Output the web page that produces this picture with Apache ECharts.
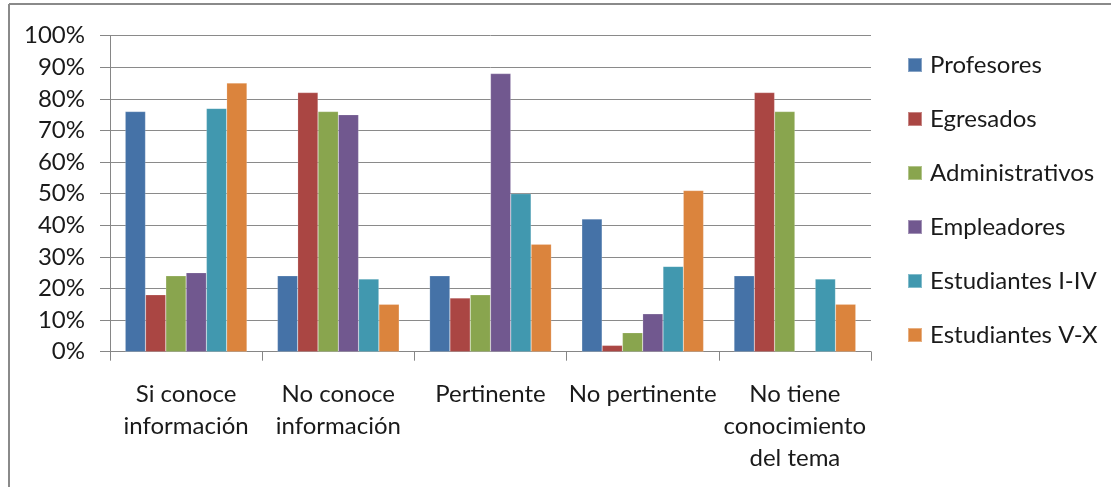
<!DOCTYPE html>
<html>
<head>
<meta charset="utf-8">
<script src="https://cdn.jsdelivr.net/npm/echarts@6/dist/echarts.min.js"></script>
<style>
html,body{margin:0;padding:0;background:#fff;}
#chart{width:1111px;height:487px;}
</style>
</head>
<body>
<div id="chart"></div>
<script>
const categories = ["Si conoce\ninformación", "No conoce\ninformación", "Pertinente", "No pertinente", "No tiene\nconocimiento\ndel tema"];
const yTicks = { min: 0, max: 100, interval: 10 };
const profesores = [76, 24, 24, 42, 24];
const egresados = [18, 82, 17, 2, 82];
const administrativos = [24, 76, 18, 6, 76];
const empleadores = [25, 75, 88, 12, null];
const estudiantesIIV = [77, 23, 50, 27, 23];
const estudiantesVX = [85, 15, 34, 51, 15];

const seriesDefs = [
  { name: "Profesores", data: profesores, color: "#4572A7" },
  { name: "Egresados", data: egresados, color: "#AA4643" },
  { name: "Administrativos", data: administrativos, color: "#89A54E" },
  { name: "Empleadores", data: empleadores, color: "#71588F" },
  { name: "Estudiantes I-IV", data: estudiantesIIV, color: "#4198AF" },
  { name: "Estudiantes V-X", data: estudiantesVX, color: "#DB843D" }
];

const font = "Lato, 'Open Sans', sans-serif";
const chart = echarts.init(document.getElementById('chart'), null, { renderer: 'canvas' });
chart.setOption({
  animation: false,
  backgroundColor: '#ffffff',
  graphic: [
    { type: 'line', shape: { x1: 9, y1: 4, x2: 1111, y2: 4 }, style: { stroke: '#8a8a8a', lineWidth: 2 } },
    { type: 'line', shape: { x1: 9, y1: 4, x2: 9, y2: 487 }, style: { stroke: '#8a8a8a', lineWidth: 2 } }
  ],
  grid: { left: 110, right: 240, top: 35.7, bottom: 135.3, containLabel: false },
  legend: {
    orient: 'vertical',
    left: 907,
    top: 53,
    padding: 0,
    itemWidth: 14,
    itemHeight: 14,
    itemGap: 30,
    icon: 'rect',
    textStyle: { fontFamily: font, fontSize: 24, color: '#1a1a1a', lineHeight: 24, padding: [0, 0, 0, 3] },
    data: seriesDefs.map(s => s.name)
  },
  xAxis: {
    type: 'category',
    data: categories,
    axisLine: { lineStyle: { color: '#868686', width: 1 } },
    axisTick: { show: true, length: 9, lineStyle: { color: '#868686' } },
    axisLabel: { fontFamily: font, fontSize: 24, color: '#1a1a1a', lineHeight: 32, margin: 27, interval: 0 }
  },
  yAxis: {
    type: 'value',
    min: yTicks.min,
    max: yTicks.max,
    interval: yTicks.interval,
    axisLine: { show: true, lineStyle: { color: '#868686', width: 1 } },
    axisTick: { show: true, length: 10, lineStyle: { color: '#868686' } },
    axisLabel: { fontFamily: font, fontSize: 24, color: '#1a1a1a', margin: 25, formatter: '{value}%' },
    splitLine: { show: true, lineStyle: { color: '#8a8a8a', width: 1 } }
  },
  series: seriesDefs.map(s => ({
    name: s.name,
    type: 'bar',
    data: s.data,
    barGap: '0%',
    barCategoryGap: '20%',
    itemStyle: { color: s.color, borderColor: 'rgba(255,255,255,0.35)', borderWidth: 0.5 }
  }))
});
</script>
</body>
</html>
